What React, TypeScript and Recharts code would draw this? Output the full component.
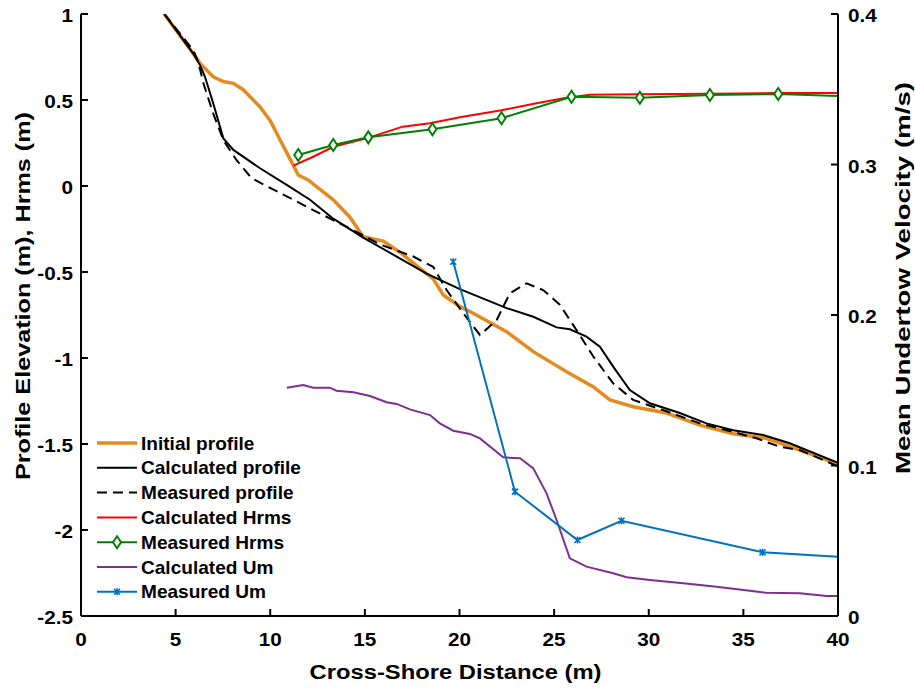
import { LineChart, Line, XAxis, YAxis, Legend, Label } from 'recharts'

// cross-shore distance (m) and elevation / Hrms (m)
const initialX = [4.4, 5.2, 5.93, 6.29, 6.99, 7.52, 8.05, 8.57, 9.46, 10.0, 10.51, 11.22, 11.48, 12.0, 13.33, 14.2, 14.91, 15.97, 16.85, 18.26, 18.61, 19.14, 20.02, 20.72, 22.49, 23.9, 25.66, 27.06, 27.95, 29.18, 30.94, 32.7, 34.46, 36.2, 37.98, 40]
const initialZ = [1.0, 0.88, 0.77, 0.713, 0.635, 0.607, 0.597, 0.56, 0.46, 0.38, 0.27, 0.12, 0.064, 0.035, -0.08, -0.18, -0.295, -0.32, -0.385, -0.51, -0.54, -0.634, -0.7, -0.74, -0.847, -0.963, -1.08, -1.167, -1.244, -1.283, -1.32, -1.39, -1.44, -1.467, -1.535, -1.615]

const calcX = [4.4, 5.93, 6.3, 6.55, 6.99, 7.52, 8.05, 9.46, 10.87, 12.1, 13.33, 14.91, 16.68, 18.26, 20.02, 22.49, 23.9, 25.13, 25.83, 26.71, 27.42, 28.12, 29.0, 30.06, 31.64, 33.05, 34.46, 36.04, 37.45, 40]
const calcZ = [1.0, 0.77, 0.7, 0.635, 0.48, 0.277, 0.21, 0.103, 0.006, -0.08, -0.19, -0.3, -0.41, -0.51, -0.6, -0.71, -0.76, -0.822, -0.833, -0.876, -0.934, -1.05, -1.186, -1.263, -1.32, -1.38, -1.42, -1.448, -1.496, -1.61]

const measX = [4.4, 5.93, 6.2, 6.46, 6.99, 7.52, 8.22, 9.02, 10.51, 12.27, 14.03, 15.8, 17.56, 18.61, 19.32, 20.2, 21.08, 21.96, 22.66, 23.54, 24.42, 25.3, 26.18, 27.06, 28.12, 29.18, 30.94, 32.7, 34.46, 35.69, 36.92, 37.98, 40]
const measZ = [1.0, 0.79, 0.72, 0.6, 0.42, 0.267, 0.15, 0.045, -0.04, -0.14, -0.237, -0.34, -0.41, -0.47, -0.605, -0.74, -0.866, -0.78, -0.624, -0.566, -0.605, -0.69, -0.837, -0.99, -1.147, -1.244, -1.31, -1.38, -1.43, -1.467, -1.516, -1.535, -1.63]

const hrmsCalcX = [11.22, 12.27, 13.33, 15.09, 17.0, 18.44, 20.02, 22.22, 24.0, 25.5, 26.9, 29.5, 33.2, 36.8, 40]
const hrmsCalc = [0.118, 0.17, 0.228, 0.277, 0.345, 0.365, 0.4, 0.44, 0.48, 0.51, 0.53, 0.533, 0.537, 0.54, 0.54]

const hrmsMeasX = [11.48, 13.33, 15.18, 18.57, 22.22, 25.92, 29.53, 33.23, 36.84, 40]
const hrmsMeas = [0.18, 0.238, 0.283, 0.33, 0.394, 0.519, 0.513, 0.529, 0.535, 0.523]

// undertow velocity (m/s)
const umCalcX = [10.88, 11.74, 12.27, 13.15, 13.5, 14.39, 15.27, 16.15, 16.68, 17.38, 18.44, 18.96, 19.67, 20.55, 21.08, 22.31, 23.2, 23.9, 24.6, 25.13, 25.83, 26.71, 28.12, 28.83, 30.06, 31.82, 33.58, 35.34, 36.2, 37.98, 39.4, 40]
const umCalc = [0.1517, 0.1535, 0.1517, 0.1517, 0.1497, 0.1486, 0.1462, 0.142, 0.1409, 0.1373, 0.1335, 0.128, 0.1231, 0.121, 0.118, 0.1054, 0.1048, 0.0981, 0.0815, 0.0638, 0.0383, 0.0328, 0.0284, 0.0257, 0.0239, 0.0217, 0.0195, 0.0168, 0.0155, 0.0151, 0.0133, 0.0133]

const umMeasX = [19.67, 22.93, 26.23, 28.56, 36.01, 40]
const umMeas = [0.2354, 0.0826, 0.0505, 0.0633, 0.0423, 0.0394]

const xTicks = [0, 5, 10, 15, 20, 25, 30, 35, 40]
const leftTicks = [-2.5, -2, -1.5, -1, -0.5, 0, 0.5, 1]
const rightTicks = [0, 0.1, 0.2, 0.3, 0.4]

const toPoints = (xs: number[], ys: number[]) => xs.map((x, i) => ({ x, y: ys[i] }))

const FONT = '"Liberation Sans", Arial, sans-serif'
const XMAX = 40

const series = [
  { name: 'Initial profile', color: '#E58A1F', width: 3.5, dash: undefined, marker: null },
  { name: 'Calculated profile', color: '#000000', width: 2, dash: undefined, marker: null },
  { name: 'Measured profile', color: '#000000', width: 2, dash: '10 6', marker: null },
  { name: 'Calculated Hrms', color: '#FF0000', width: 2, dash: undefined, marker: null },
  { name: 'Measured Hrms', color: '#008000', width: 2, dash: undefined, marker: 'diamond' },
  { name: 'Calculated Um', color: '#7E2F8E', width: 2, dash: undefined, marker: null },
  { name: 'Measured Um', color: '#0072BD', width: 2, dash: undefined, marker: 'x' },
]

function Marker({ kind, cx, cy, color }: { kind: string | null; cx: number; cy: number; color: string }) {
  if (kind === 'diamond') {
    return (
      <path
        d={`M${cx},${cy - 6} L${cx + 4},${cy} L${cx},${cy + 6} L${cx - 4},${cy} Z`}
        fill="#fff"
        stroke={color}
        strokeWidth={2}
      />
    )
  }
  if (kind === 'x') {
    return (
      <path
        d={`M${cx - 3},${cy - 3} L${cx + 3},${cy + 3} M${cx - 3},${cy + 3} L${cx + 3},${cy - 3} M${cx},${cy - 3.5} L${cx},${cy + 3.5}`}
        stroke={color}
        strokeWidth={1.6}
      />
    )
  }
  return null
}

const markerDot = (kind: string, color: string) => (props: any) => {
  const { cx, cy, payload, index } = props
  if (payload.x >= XMAX || cx == null) return <g key={`d${index}`} />
  return (
    <g key={`d${index}`}>
      <Marker kind={kind} cx={cx} cy={cy} color={color} />
    </g>
  )
}

function TickText({ x, y, anchor, children }: any) {
  return (
    <text
      transform={`translate(${x},${y}) scale(1.15,1)`}
      textAnchor={anchor}
      fontFamily={FONT}
      fontWeight="bold"
      fontSize={18}
      fill="#000"
    >
      {children}
    </text>
  )
}

function BottomTick({ x, y, payload }: any) {
  return <TickText x={x} y={y + 30} anchor="middle">{payload.value}</TickText>
}

function LeftTick({ x, y, payload }: any) {
  return <TickText x={x - 8} y={y + 8} anchor="end">{payload.value}</TickText>
}

function RightTick({ x, y, payload }: any) {
  return <TickText x={x + 10} y={y + 8} anchor="start">{payload.value}</TickText>
}

function LegendBox() {
  return (
    <svg width={240} height={180}>
      {series.map((s, i) => {
        const cy = 12 + i * 24.8
        return (
          <g key={s.name}>
            <line x1={2} x2={42} y1={cy} y2={cy} stroke={s.color} strokeWidth={s.width} strokeDasharray={s.dash} />
            <Marker kind={s.marker} cx={22} cy={cy} color={s.color} />
            <text
              transform={`translate(46,${cy + 6.5}) scale(1.06,1)`}
              fontFamily={FONT}
              fontWeight="bold"
              fontSize={18}
              fill="#000"
            >
              {s.name}
            </text>
          </g>
        )
      })}
    </svg>
  )
}

const seriesData = [
  { points: toPoints(initialX, initialZ), axis: 'left' },
  { points: toPoints(calcX, calcZ), axis: 'left' },
  { points: toPoints(measX, measZ), axis: 'left' },
  { points: toPoints(hrmsCalcX, hrmsCalc), axis: 'left' },
  { points: toPoints(hrmsMeasX, hrmsMeas), axis: 'left' },
  { points: toPoints(umCalcX, umCalc), axis: 'right' },
  { points: toPoints(umMeasX, umMeas), axis: 'right' },
]

export default function App() {
  return (
    <div style={{ position: 'absolute', left: 0, top: 0, background: '#fff' }}>
      <LineChart width={915} height={689} margin={{ top: 14, right: 0, bottom: 0, left: 0 }}>
        <XAxis
          type="number"
          dataKey="x"
          domain={[0, 40]}
          ticks={xTicks}
          allowDataOverflow
          height={73}
          stroke="#000"
          strokeWidth={2}
          tickSize={-7}
          tickMargin={7}
          tick={<BottomTick />}
        >
          <Label
            content={({ viewBox }: any) => (
              <text
                x={viewBox.x + viewBox.width / 2 - 4}
                y={viewBox.y + 63}
                textAnchor="middle"
                fontFamily={FONT}
                fontWeight="bold"
                fontSize={20}
                textLength={292}
                lengthAdjust="spacingAndGlyphs"
              >
                Cross-Shore Distance (m)
              </text>
            )}
          />
        </XAxis>
        <YAxis
          yAxisId="left"
          type="number"
          domain={[-2.5, 1]}
          ticks={leftTicks}
          allowDataOverflow
          width={81}
          stroke="#000"
          strokeWidth={2}
          tickSize={-7}
          tickMargin={7}
          tick={<LeftTick />}
        >
          <Label
            content={() => (
              <text
                x={30}
                y={296}
                transform="rotate(-90 30 296)"
                textAnchor="middle"
                fontFamily={FONT}
                fontWeight="bold"
                fontSize={21}
                textLength={368}
                lengthAdjust="spacingAndGlyphs"
              >
                Profile Elevation (m), Hrms (m)
              </text>
            )}
          />
        </YAxis>
        <YAxis
          yAxisId="right"
          orientation="right"
          type="number"
          domain={[0, 0.4]}
          ticks={rightTicks}
          allowDataOverflow
          width={77}
          stroke="#000"
          strokeWidth={2}
          tickSize={-7}
          tickMargin={7}
          tick={<RightTick />}
        >
          <Label
            content={() => (
              <text
                x={910}
                y={278}
                transform="rotate(-90 910 278)"
                textAnchor="middle"
                fontFamily={FONT}
                fontWeight="bold"
                fontSize={21}
                textLength={392}
                lengthAdjust="spacingAndGlyphs"
              >
                Mean Undertow Velocity (m/s)
              </text>
            )}
          />
        </YAxis>
        <Legend
          layout="vertical"
          align="center"
          verticalAlign="middle"
          content={() => <LegendBox />}
          wrapperStyle={{ left: 95, top: 431, width: 240, height: 180 }}
        />
        {series.map((s, i) => (
          <Line
            key={s.name}
            name={s.name}
            data={seriesData[i].points}
            dataKey="y"
            yAxisId={seriesData[i].axis}
            type="linear"
            stroke={s.color}
            strokeWidth={s.width}
            strokeDasharray={s.dash}
            dot={s.marker ? markerDot(s.marker, s.color) : false}
            activeDot={false}
            isAnimationActive={false}
          />
        ))}
      </LineChart>
    </div>
  )
}
